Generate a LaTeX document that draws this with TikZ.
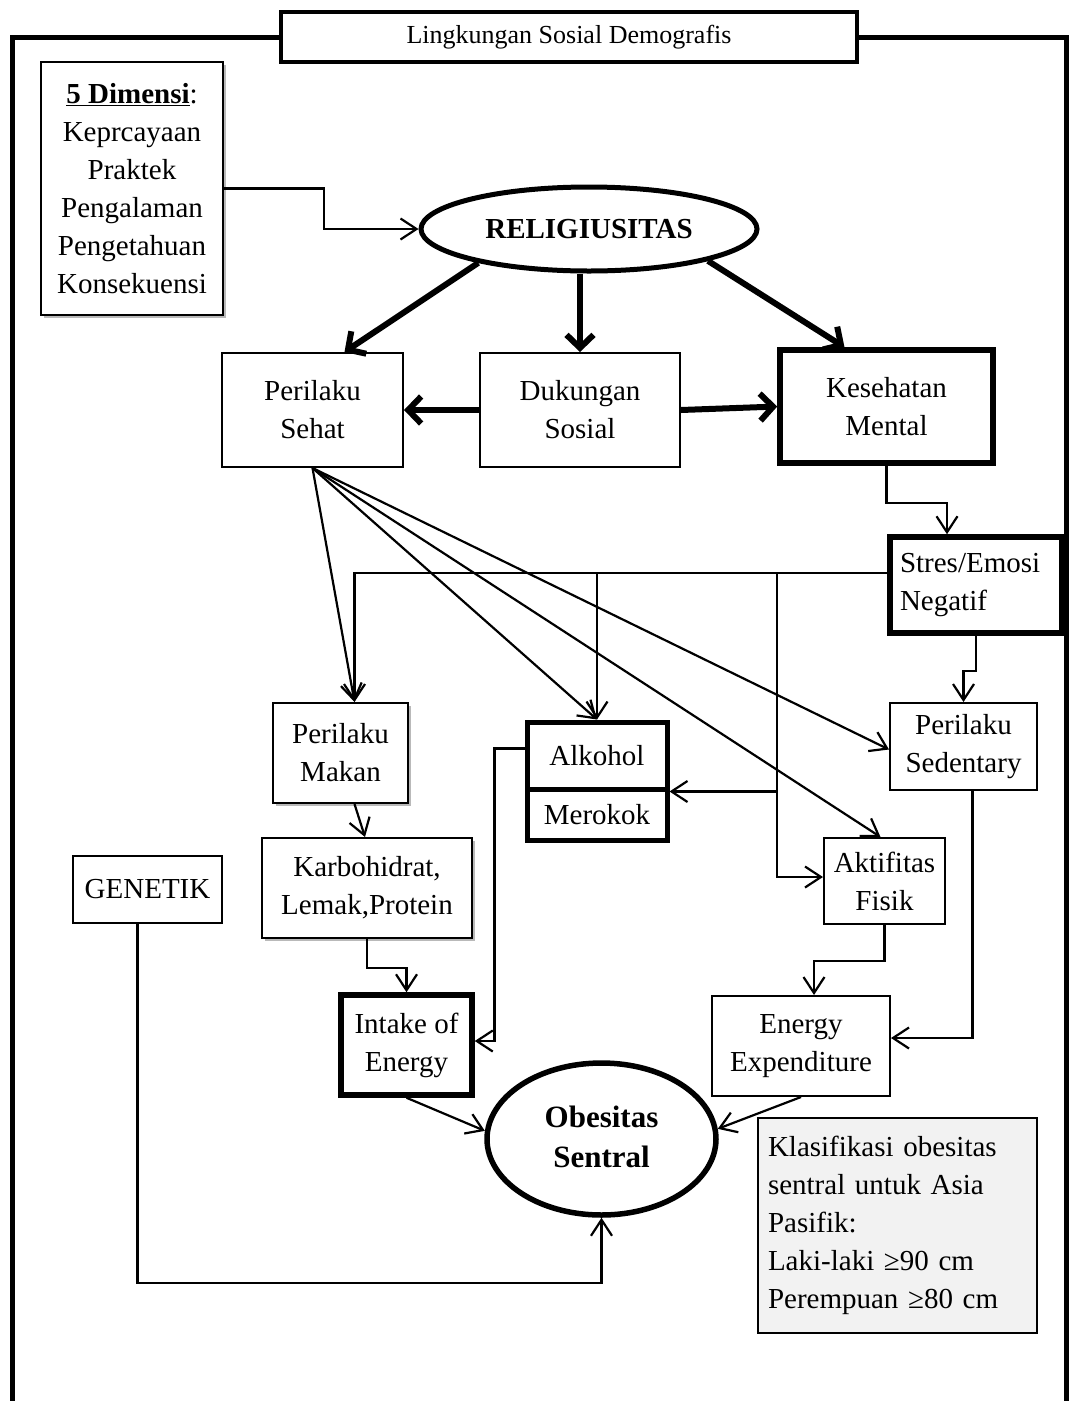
\documentclass[tikz,border=0pt]{standalone}
\usepackage{fontspec}
\setmainfont{Liberation Serif}
\usetikzlibrary{arrows.meta,calc,shapes.geometric,shadows}
\begin{document}
\begin{tikzpicture}[x=1pt,y=-1pt,
  every node/.style={font=\fontsize{29}{38}\selectfont},
  box/.style={draw, line width=2pt, rectangle, inner sep=0pt, align=center, fill=white},
  tbox/.style={box, line width=5.5pt},
  shad/.style={drop shadow={shadow xshift=3pt,shadow yshift=-3pt,fill=gray!55,opacity=1}},
  arr/.style={line width=2.2pt,-{Straight Barb[length=16pt,width=21pt,line width=2.2pt]}},
  tharr/.style={line width=6pt,-{Straight Barb[length=13pt,width=27pt,line width=6pt]}},
  frame/.style={line width=5pt, line join=miter}
  ]
\useasboundingbox (0,0) rectangle (1071,1401);

% outer frame
\node[box, line width=4pt, minimum width=576, minimum height=50, font=\fontsize{26}{30}\selectfont] (title) at (569,37) {Lingkungan Sosial Demografis};
\coordinate (fbl) at (12,1410);
\coordinate (ftl) at (12,37);
\coordinate (ftr) at (1066,37);
\coordinate (fbr) at (1066,1410);
\draw[frame] (fbl) -- (ftl) -- (title.west);
\draw[frame] (title.east) -- (ftr) -- (fbr);

% nodes
\node[box, shad, minimum width=182, minimum height=253] (dim) at (132,188.5)
  {\underline{\textbf{5 Dimensi}}:\\Keprcayaan\\Praktek\\Pengalaman\\Pengetahuan\\Konsekuensi};
\node[ellipse, draw, line width=5pt, minimum width=336, minimum height=84, inner sep=0pt, fill=white,
  font=\bfseries\fontsize{29}{38}\selectfont] (rel) at (589,229) {RELIGIUSITAS};
\node[box, minimum width=181, minimum height=114] (ps) at (312.5,410) {Perilaku\\Sehat};
\node[box, minimum width=200, minimum height=114] (ds) at (580,410) {Dukungan\\Sosial};
\node[tbox, minimum width=213, minimum height=113] (km) at (886.5,406.5) {Kesehatan\\Mental};
\node[tbox, minimum width=172, minimum height=96, text width=152, inner xsep=10pt, align=left] (st) at (976,585) {Stres/Emosi\\Negatif};
\node[box, minimum width=147, minimum height=87] (sed) at (963.5,746.5) {Perilaku\\Sedentary};
\node[box, shad, minimum width=135, minimum height=100] (pm) at (340.5,753) {Perilaku\\Makan};
\node[tbox, line width=5pt, minimum width=140, minimum height=67] (alk) at (597,755.5) {Alkohol};
\node[tbox, line width=5pt, minimum width=140, minimum height=51] (mer) at (597,814.5) {Merokok};
\node[box, shad, minimum width=210, minimum height=100] (karb) at (367,888) {Karbohidrat,\\Lemak,Protein};
\node[box, minimum width=149, minimum height=67] (gen) at (147.5,889.5) {GENETIK};
\node[tbox, minimum width=131, minimum height=100] (intake) at (406.5,1045) {Intake of\\Energy};
\node[box, minimum width=121, minimum height=86] (akt) at (884.5,881) {Aktifitas\\Fisik};
\node[box, minimum width=178, minimum height=100] (ee) at (801,1046) {Energy\\Expenditure};
\node[ellipse, draw, line width=5.5pt, minimum width=229, minimum height=152, inner sep=0pt, fill=white,
  font=\bfseries\fontsize{31}{40}\selectfont] (obs) at (601.5,1139)
  {\raisebox{9pt}{\begin{tabular}{@{}c@{}}Obesitas\\Sentral\end{tabular}}};
\node[box, fill=gray!10, minimum width=279, minimum height=215, text width=259, inner xsep=10pt, align=left] (klas) at (897.5,1225.5)
  {Klasifikasi obesitas\\sentral untuk Asia\\Pasifik:\\Laki-laki ≥90 cm\\Perempuan ≥80 cm};

% connectors
\draw[arr] (dim.east) -- ++(100,0) |- (rel.west);
\draw[tharr] (rel.197) -- ($(ps.north)+(32,0)$);
\draw[tharr] (rel.south -| ds.north) -- (ds.north);
\draw[tharr] (rel.345) -- ($(km.north)+(-42,0)$);
\draw[tharr] (ds.west) -- (ps.east);
\draw[tharr] (ds.east) -- (km.west);
\draw[arr] (km.south) -- ++(0,37) -| ($(st.north)+(-29,0)$);
\draw[arr] (st.south) -- ++(0,35) -| (sed.north);

\coordinate (sl) at ($(st.west)+(0,-12)$);
\coordinate (vx) at (777,573);
\draw[arr] (sl) -| ($(pm.north)+(14,0)$);
\draw[arr] (sl -| alk.north) -- (alk.north);
\draw[arr] (vx) |- ($(akt.west)+(0,-4)$);
\draw[arr] (vx |- alk.south east) -- (alk.south east);
\draw[arr] ($(alk.west)+(0,-7)$) -- ++(-30,0) |- ($(intake.east)+(0,-4)$);

% fan from Perilaku Sehat
\draw[arr] (ps.south) -- ($(pm.north)+(14,0)$);
\draw[arr] (ps.south) -- (alk.north);
\draw[arr] (ps.south) -- ($(akt.north)+(-4,0)$);
\draw[arr] (ps.south) -- ($(sed.west)+(0,3)$);

\draw[arr] ($(pm.south)+(14,0)$) -- ($(karb.north)+(-2,0)$);
\draw[arr] (karb.south) -- ++(0,29) -| (intake.north);
\draw[arr] (akt.south) -- ++(0,36) -| ($(ee.north)+(13,0)$);
\draw[arr] ($(sed.south)+(9,0)$) |- ($(ee.east)+(0,-8)$);
\draw[arr] (intake.south) -- (obs.176);
\draw[arr] (ee.south) -- (obs.5);
\draw[arr] ($(gen.south)+(-10,0)$) -- ($(gen.south)+(-10,359)$) -| (obs.south);
\end{tikzpicture}
\end{document}
